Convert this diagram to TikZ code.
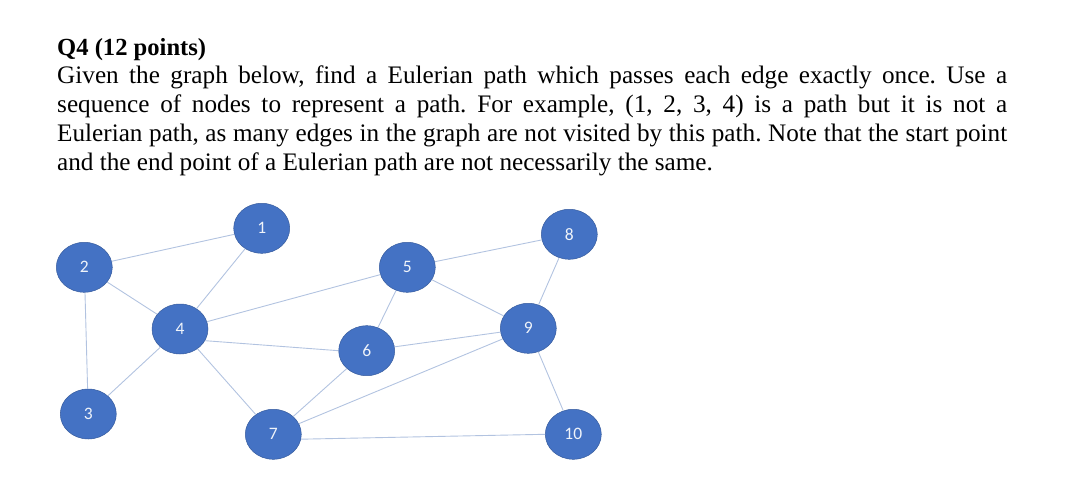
\documentclass[tikz,border=0pt]{standalone}
\usepackage{fontspec}
\setmainfont{Liberation Serif}
\newfontfamily\labelfont{Carlito}
\usetikzlibrary{shapes.geometric}
\definecolor{nodeblue}{RGB}{68,114,196}
\definecolor{edgeblue}{RGB}{178,195,224}

\begin{document}
\frenchspacing
\begin{tikzpicture}[x=1pt,y=-1pt,
    vertex/.style={ellipse,fill=nodeblue,draw=nodeblue!80!black,line width=0.5pt,
      minimum width=56pt,minimum height=50pt,inner sep=0pt,text=white!92!nodeblue,
      font=\labelfont\fontsize{17.5}{20}\selectfont},
    edge/.style={draw=edgeblue,line width=0.9pt}]
      \useasboundingbox (0,0) rectangle (1078,489);

      % question text
      \node[anchor=base west,inner sep=0pt,font=\rmfamily\bfseries\fontsize{24.6}{29}\selectfont]
        (title) at (57,55.5) {Q4 (12 points)};
      \node[anchor=north west,inner sep=0pt,text width=950pt,align=justify,
        font=\rmfamily\fontsize{25.2}{28.9}\selectfont] (question) at (57,66)
        {Given the graph below, find a Eulerian path which passes each edge exactly once. Use a\linebreak
         sequence of nodes to represent a path. For example, (1, 2, 3, 4) is a path but it is not a\linebreak
         Eulerian path, as many edges in the graph are not visited by this path. Note that the start point\linebreak
         and the end point of a Eulerian path are not necessarily the same.};

      % graph
      \node[vertex] (1) at (261.7,228.3) {1};
      \node[vertex] (2) at (84.3,267.3) {2};
      \node[vertex] (3) at (88.3,414) {3};
      \node[vertex] (4) at (180,329) {4};
      \node[vertex] (5) at (407.3,267.3) {5};
      \node[vertex] (6) at (366.7,350.7) {6};
      \node[vertex] (7) at (273.3,434.3) {7};
      \node[vertex] (8) at (569.3,234.3) {8};
      \node[vertex] (9) at (528.3,328.3) {9};
      \node[vertex] (10) at (573.3,434.3) {10};

      \foreach \from/\to in {1/2,1/4,2/4,2/3,3/4,4/5,4/7,5/6,5/8,5/9,6/9,6/7,7/9,8/9,9/10}
        \draw[edge] (\from) -- (\to);
      \draw[edge] (4.-25) -- (6.west);
      \draw[edge] (7.-10) -- (10.west);
    \end{tikzpicture}
\end{document}
